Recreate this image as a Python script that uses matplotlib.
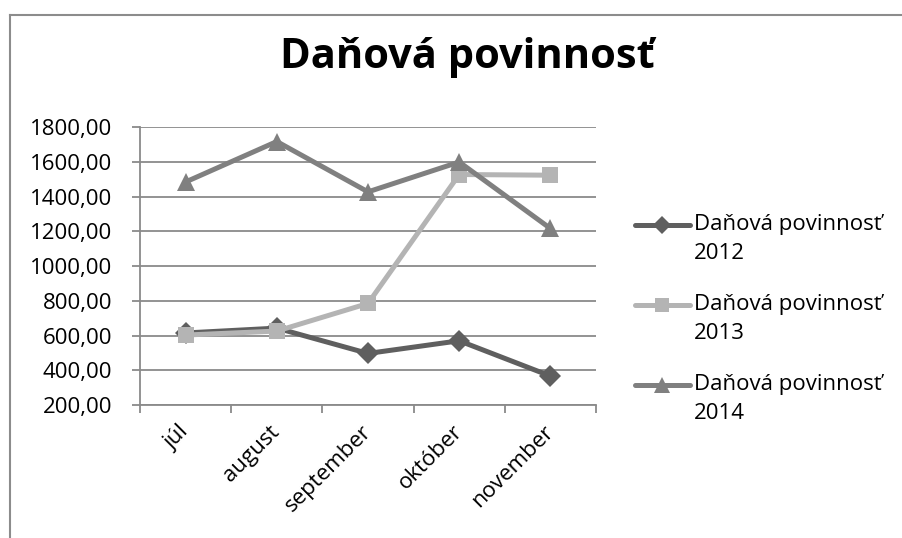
import numpy as np
import matplotlib
matplotlib.use("Agg")
import matplotlib.pyplot as plt
import matplotlib.transforms as mtransforms
from matplotlib.lines import Line2D

plt.rcParams['font.family'] = ['Open Sans', 'DejaVu Sans']

# data
months = ["júl", "august", "september", "október", "november"]
dan_2012 = [615, 643, 497, 570, 367]
dan_2013 = [603, 626, 785, 1528, 1524]
dan_2014 = [1485, 1718, 1428, 1600, 1217]
series_labels = ["Daňová povinnosť\n2012", "Daňová povinnosť\n2013", "Daňová povinnosť\n2014"]
y_ticks = [200, 400, 600, 800, 1000, 1200, 1400, 1600, 1800]

colors = ["#5f5f5f", "#b4b4b4", "#808080"]
markers = ["D", "s", "^"]
msizes = [11, 12, 13]
grid_col = "#8a8a8a"
fs = 16

fig = plt.figure(figsize=(9.02, 5.38), dpi=100)
ax = fig.add_axes([140 / 902, 1 - 405 / 538, (596 - 140) / 902, (405 - 127.3) / 538])

x = np.arange(len(months))
for vals, c, m, ms in zip([dan_2012, dan_2013, dan_2014], colors, markers, msizes):
    ax.plot(x, vals, color=c, lw=3.6, marker=m, markersize=ms,
            markeredgewidth=0, solid_joinstyle="round", solid_capstyle="round")

ax.set_xlim(-0.5, len(months) - 0.5)
ax.set_ylim(y_ticks[0], y_ticks[-1])
ax.set_yticks(y_ticks)
ax.set_yticklabels([f"{v:.2f}".replace(".", ",") for v in y_ticks], fontsize=fs)
ax.yaxis.grid(True, color=grid_col, lw=1.3)
ax.set_axisbelow(True)

# category ticks between months, labels at month centres
ax.set_xticks(np.arange(-0.5, len(months)), minor=True)
ax.set_xticks(x)
ax.set_xticklabels(months, rotation=45, ha="right", va="center",
                   rotation_mode="anchor", fontsize=fs)
shift = mtransforms.ScaledTranslation(0.06, 0, fig.dpi_scale_trans)
for lbl in ax.get_xticklabels():
    lbl.set_transform(lbl.get_transform() + shift)
ax.tick_params(axis="x", which="major", length=0, pad=17)
ax.tick_params(axis="x", which="minor", length=6, width=1.3, color=grid_col, direction="out")
ax.tick_params(axis="y", length=6, width=1.3, color=grid_col, pad=14)

for side in ["top", "right"]:
    ax.spines[side].set_visible(False)
for side in ["left", "bottom"]:
    ax.spines[side].set_color(grid_col)
    ax.spines[side].set_linewidth(1.3)

fig.text(0.518, 1 - 68 / 538, "Daňová povinnosť", ha="center", va="baseline",
         fontsize=30, fontweight="bold")

# legend drawn to mimic the spreadsheet layout
for i, (lab, c, m, ms) in enumerate(zip(series_labels, colors, markers, msizes)):
    yy = 1 - (225 + 80 * i) / 538
    fig.add_artist(Line2D([635 / 902, 690 / 902], [yy, yy], color=c, lw=3.6,
                          solid_capstyle="round"))
    fig.add_artist(Line2D([662 / 902], [yy], color=c, marker=m, markersize=ms * 0.85,
                          markeredgewidth=0))
    fig.text(694 / 902, yy + 11 / 538, lab, ha="left", va="top", fontsize=fs,
             linespacing=1.5)

# chart area border (cropped on right and bottom)
fig.add_artist(Line2D([9.5 / 902, 9.5 / 902], [0, 1 - 15 / 538], color="#8c8c8c", lw=1.5))
fig.add_artist(Line2D([9.5 / 902, 1], [1 - 15 / 538, 1 - 15 / 538], color="#8c8c8c", lw=1.5))

fig.savefig("out.png", dpi=100)
